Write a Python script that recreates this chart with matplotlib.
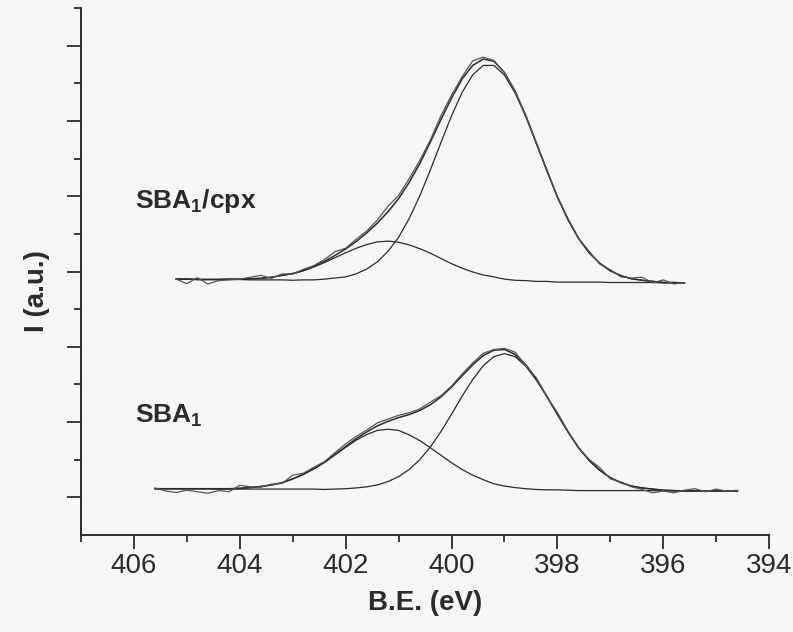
import numpy as np
import matplotlib
matplotlib.use('Agg')
import matplotlib.pyplot as plt
from matplotlib.ticker import MultipleLocator, FixedLocator

# Energias de enlace (eV) para cada espectro
be_upper = [405.2 - 0.2 * k for k in range(49)]
be_lower = [405.6 - 0.2 * k for k in range(56)]

# SBA1/cpx: datos medidos, ajuste total y dos componentes
upper_raw = [6.80, 6.68, 6.84, 6.67, 6.76, 6.78, 6.80, 6.85, 6.90, 6.82,
             6.94, 6.93, 7.06, 7.16, 7.32, 7.53, 7.62, 7.86, 8.08, 8.37,
             8.74, 9.02, 9.47, 9.95, 10.50, 11.14, 11.69, 12.18, 12.60, 12.70,
             12.61, 12.29, 11.77, 11.17, 10.41, 9.72, 8.97, 8.41, 7.88, 7.54,
             7.20, 7.05, 6.86, 6.83, 6.85, 6.70, 6.78, 6.67, 6.71]
upper_fit = [6.80, 6.80, 6.79, 6.79, 6.79, 6.80, 6.80, 6.81, 6.82, 6.85,
             6.90, 6.95, 7.03, 7.14, 7.27, 7.43, 7.60, 7.80, 8.03, 8.29,
             8.59, 8.94, 9.37, 9.87, 10.44, 11.04, 11.61, 12.12, 12.48, 12.65,
             12.59, 12.29, 11.80, 11.15, 10.43, 9.69, 8.99, 8.38, 7.88, 7.50,
             7.22, 7.02, 6.89, 6.81, 6.77, 6.74, 6.71, 6.71, 6.70]
upper_p1 = [6.80, 6.80, 6.79, 6.79, 6.79, 6.79, 6.79, 6.78, 6.78, 6.78,
            6.78, 6.77, 6.78, 6.78, 6.80, 6.83, 6.86, 6.94, 7.07, 7.26,
            7.54, 7.91, 8.41, 9.01, 9.70, 10.43, 11.14, 11.76, 12.23, 12.48,
            12.48, 12.22, 11.75, 11.13, 10.41, 9.68, 8.98, 8.38, 7.88, 7.50,
            7.22, 7.02, 6.89, 6.81, 6.77, 6.74, 6.71, 6.71, 6.70]
upper_p2 = [6.80, 6.80, 6.79, 6.79, 6.79, 6.80, 6.80, 6.81, 6.82, 6.85,
            6.90, 6.94, 7.02, 7.12, 7.24, 7.37, 7.50, 7.62, 7.72, 7.79,
            7.81, 7.78, 7.71, 7.61, 7.49, 7.35, 7.21, 7.09, 6.99, 6.91,
            6.86, 6.80, 6.77, 6.76, 6.74, 6.74, 6.72, 6.72, 6.72, 6.72,
            6.72, 6.71, 6.71, 6.71, 6.71, 6.71, 6.70, 6.70, 6.70]

# SBA1
lower_raw = [1.25, 1.17, 1.13, 1.19, 1.15, 1.11, 1.18, 1.15, 1.32, 1.28,
             1.27, 1.35, 1.37, 1.59, 1.64, 1.80, 1.95, 2.19, 2.42, 2.62,
             2.79, 2.98, 3.08, 3.18, 3.25, 3.35, 3.53, 3.70, 3.96, 4.28,
             4.57, 4.83, 4.93, 4.96, 4.86, 4.51, 4.18, 3.67, 3.25, 2.76,
             2.30, 2.01, 1.79, 1.49, 1.41, 1.28, 1.21, 1.12, 1.17, 1.12,
             1.19, 1.23, 1.15, 1.22, 1.16, 1.19]
lower_fit = [1.23, 1.23, 1.23, 1.23, 1.23, 1.23, 1.23, 1.23, 1.24, 1.26,
             1.29, 1.33, 1.39, 1.49, 1.61, 1.76, 1.93, 2.14, 2.35, 2.56,
             2.74, 2.90, 3.02, 3.12, 3.20, 3.31, 3.46, 3.67, 3.93, 4.23,
             4.52, 4.77, 4.91, 4.93, 4.80, 4.53, 4.15, 3.69, 3.21, 2.74,
             2.32, 1.98, 1.72, 1.52, 1.39, 1.30, 1.25, 1.22, 1.19, 1.18,
             1.17, 1.17, 1.17, 1.17, 1.17, 1.17]
lower_p1 = [1.23, 1.23, 1.23, 1.23, 1.23, 1.23, 1.22, 1.22, 1.22, 1.22,
            1.22, 1.22, 1.22, 1.22, 1.22, 1.22, 1.21, 1.22, 1.23, 1.25,
            1.28, 1.33, 1.42, 1.55, 1.74, 2.00, 2.34, 2.75, 3.21, 3.69,
            4.13, 4.50, 4.74, 4.82, 4.74, 4.49, 4.12, 3.68, 3.20, 2.74,
            2.32, 1.98, 1.72, 1.52, 1.39, 1.30, 1.25, 1.22, 1.19, 1.18,
            1.17, 1.17, 1.17, 1.17, 1.17, 1.17]
lower_p2 = [1.23, 1.23, 1.23, 1.23, 1.23, 1.23, 1.23, 1.23, 1.24, 1.26,
            1.29, 1.33, 1.39, 1.49, 1.61, 1.76, 1.93, 2.13, 2.33, 2.52,
            2.67, 2.78, 2.81, 2.78, 2.66, 2.51, 2.32, 2.12, 1.92, 1.74,
            1.59, 1.47, 1.36, 1.30, 1.26, 1.23, 1.21, 1.20, 1.20, 1.19,
            1.18, 1.18, 1.18, 1.18, 1.18, 1.18, 1.18, 1.18, 1.17, 1.17,
            1.17, 1.17, 1.17, 1.17, 1.17, 1.17]

x_ticks = [406, 404, 402, 400, 398, 396, 394]

plt.rcParams['font.family'] = ['Liberation Sans', 'DejaVu Sans']
plt.rcParams['mathtext.fontset'] = 'custom'
plt.rcParams['mathtext.rm'] = 'Liberation Sans'
plt.rcParams['mathtext.bf'] = 'Liberation Sans:bold'

bg = '#f6f6f8'
ink = '#2b2b2b'

fig = plt.figure(figsize=(7.93, 6.32), dpi=100, facecolor=bg)
ax = fig.add_axes([0.102, 0.1535, 0.868, 0.8335], facecolor=bg)

for be, raw, fit, p1, p2 in [(be_upper, upper_raw, upper_fit, upper_p1, upper_p2),
                             (be_lower, lower_raw, lower_fit, lower_p1, lower_p2)]:
    ax.plot(be, p1, color=ink, lw=0.9)
    ax.plot(be, p2, color=ink, lw=0.9)
    ax.plot(be, fit, color=ink, lw=1.1)
    ax.plot(be, raw, color='#555555', lw=0.9)

ax.text(405.98, 8.88, r'$\mathbf{SBA_1/cpx}$', fontsize=19, va='center', ha='left', color=ink)
ax.text(405.98, 3.16, r'$\mathbf{SBA_1}$', fontsize=19, va='center', ha='left', color=ink)

ax.set_xlim(407, 394)
ax.set_ylim(0, 14)
ax.xaxis.set_major_locator(FixedLocator(x_ticks))
ax.xaxis.set_minor_locator(MultipleLocator(1))
ax.yaxis.set_major_locator(FixedLocator([1, 3, 5, 7, 9, 11, 13]))
ax.yaxis.set_minor_locator(FixedLocator([2, 4, 6, 8, 10, 12, 14]))
ax.set_yticklabels([])
ax.tick_params(axis='both', which='major', direction='out', length=10, width=1.3, color=ink)
ax.tick_params(axis='both', which='minor', direction='out', length=5, width=1.3, color=ink)
ax.tick_params(axis='x', labelsize=20, pad=3, labelcolor=ink)

for s in ['top', 'right']:
    ax.spines[s].set_visible(False)
for s in ['left', 'bottom']:
    ax.spines[s].set_linewidth(1.4)
    ax.spines[s].set_color(ink)

ax.set_xlabel('B.E. (eV)', fontsize=20, fontweight='bold', color=ink)
ax.xaxis.set_label_coords(0.5, -0.105)
ax.set_ylabel('I (a.u.)', fontsize=20, fontweight='bold', color=ink)
ax.yaxis.set_label_coords(-0.045, 0.464)

plt.savefig('out.png', dpi=100, facecolor=bg)
